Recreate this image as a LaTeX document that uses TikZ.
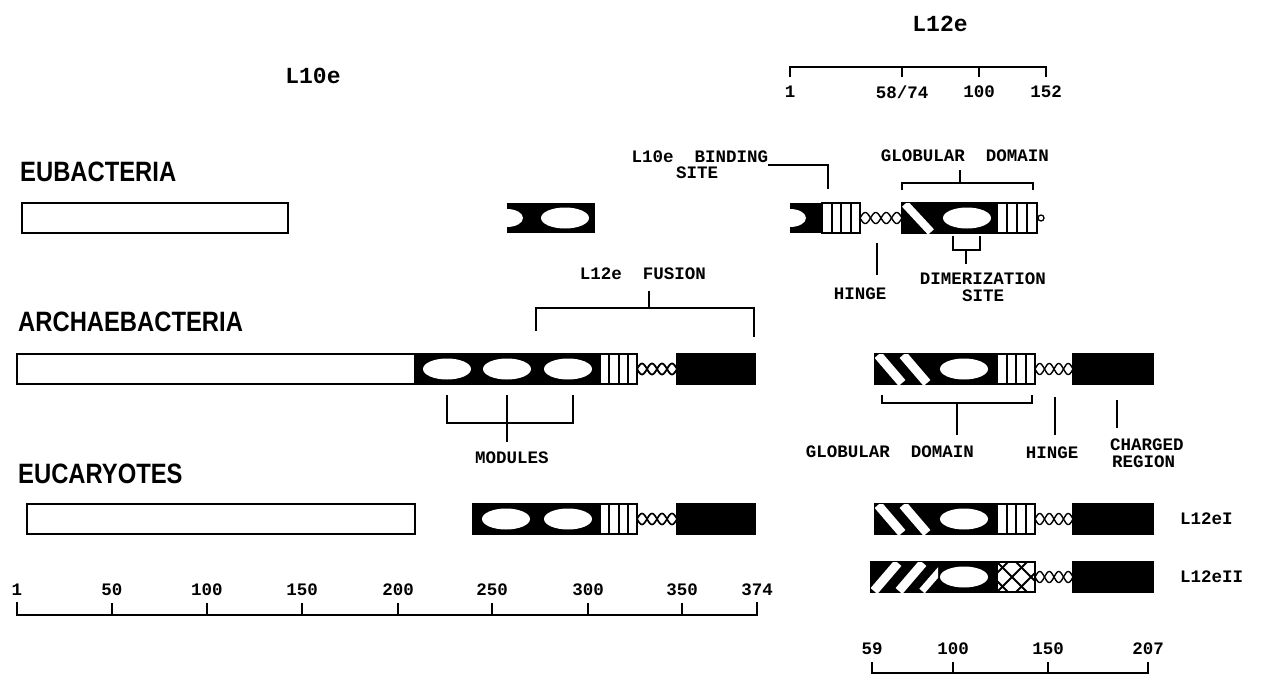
\documentclass[tikz,border=0pt]{standalone}
\usepackage{fontspec}
\newfontfamily\monofam{Liberation Mono}
\newfontfamily\sansfam{Liberation Sans}
\usetikzlibrary{calc}

\tikzset{
  outline/.style={line width=2.5pt},
  lead/.style={line width=2.2pt},
  lbl/.style={font=\monofam\bfseries\fontsize{17.5}{19}\selectfont, inner sep=0pt},
  protein/.style={font=\monofam\bfseries\fontsize{23}{25}\selectfont, inner sep=0pt},
  kingdom/.style={font=\sansfam\bfseries\fontsize{28}{30}\selectfont, inner sep=0pt, anchor=west}
}

% hinge: two crossing waves between #1 and #2 at height #3
\newcommand\hingechain[3]{%
  \draw[line width=1.4pt] plot[domain=#1:#2, samples=81, smooth] (\x,{#3+5.5*sin((\x-#1)/(#2-#1)*720)});
  \draw[line width=1.4pt] plot[domain=#1:#2, samples=81, smooth] (\x,{#3-5.5*sin((\x-#1)/(#2-#1)*720)});
}
% box with vertical stripes
\newcommand\vstripes[4]{%
  \draw[outline, fill=white] (#1,#3) rectangle (#2,#4);
  \foreach \k in {1,2,3}
    \draw[line width=2pt] ({#1+\k*(#2-#1)/4},#3) -- ({#1+\k*(#2-#1)/4},#4);
}
% white oval on black
\newcommand\whiteoval[2]{\fill[white] (#1,#2) ellipse[x radius=24pt, y radius=10.5pt];}
% white notch at the left end of a black segment
\newcommand\notch[2]{\fill[white] (#1,#2) ellipse[x radius=16pt, y radius=9pt];}

\begin{document}
\begin{tikzpicture}[x=1pt, y=-1pt]
  \useasboundingbox (0,0) rectangle (1267,675);

  % titles
  \node[protein] (l10e) at (313,76) {L10e};
  \node[protein] (l12e) at (940,24) {L12e};

  % L12e scale (top)
  \draw[lead] (790,77) -- (790,67) -- (1046,67) -- (1046,77);
  \foreach \px in {902,979} \draw[lead] (\px,67) -- (\px,77);
  \node[lbl] (s1) at (790,92) {1};
  \node[lbl] (s58) at (902,92) {58/74};
  \node[lbl] (s100) at (979,92) {100};
  \node[lbl] (s152) at (1046,92) {152};

  % kingdoms
  \node[kingdom] (eubac) at (20,172) {\scalebox{0.85}[1]{EUBACTERIA}};
  \node[kingdom] (archae) at (18,322) {\scalebox{0.85}[1]{ARCHAEBACTERIA}};
  \node[kingdom] (eucar) at (18,474) {\scalebox{0.85}[1]{EUCARYOTES}};

  % ---- Eubacteria ----
  \draw[outline] (22,203) rectangle (288,233);
  \fill (507,203) rectangle (595,233);
  \notch{507}{218}
  \whiteoval{565}{218}

  \fill (790,203) rectangle (824,233);
  \notch{790}{218}
  \vstripes{822}{860}{203}{233}
  \hingechain{860}{902}{218}
  \draw[outline, fill=black] (902,203) rectangle (1037,233);
  \begin{scope}
    \clip (902,203) rectangle (942,233);
    \draw[white, line width=8pt] (905,204) -- (931,232);
  \end{scope}
  \whiteoval{967}{218}
  \vstripes{997}{1037}{203}{233}
  \draw[line width=1.3pt] (1041,218) circle[radius=3pt];

  % labels Eubacteria L12e
  \node[lbl] (bind) at (700,157) {L10e\ \ BINDING};
  \node[lbl] (bindb) at (697,173) {SITE};
  \draw[lead] (bind.east |- 0,165) -- (828,165) -- (828,189);
  \node[lbl] (glob1) at (965,156) {GLOBULAR\ \ DOMAIN};
  \draw[lead] (902,190) -- (902,183) -- (1033,183) -- (1033,190);
  \draw[lead] (960,183) -- (960,170);
  \node[lbl] (hinge1) at (860,294) {HINGE};
  \draw[lead] (877,243) -- (877,275);
  \node[lbl] (dimer) at (983,279) {DIMERIZATION};
  \node[lbl] (dimerb) at (983,296) {SITE};
  \draw[lead] (953,236) -- (953,250) -- (980,250) -- (980,236);
  \draw[lead] (966,250) -- (966,264);

  % ---- Archaebacteria ----
  \node[lbl] (fusion) at (643,274) {L12e\ \ FUSION};
  \draw[lead] (536,331) -- (536,308) -- (754,308) -- (754,337);
  \draw[lead] (649,308) -- (649,291);

  \draw[outline] (17,354) rectangle (415,384);
  \draw[outline, fill=black] (415,354) rectangle (602,384);
  \foreach \cx in {447,507,568} \whiteoval{\cx}{369}
  \vstripes{600}{637}{354}{384}
  \hingechain{637}{677}{369}
  \draw[outline, fill=black] (677,354) rectangle (755,384);

  \node[lbl] (modules) at (512,458) {MODULES};
  \draw[lead] (447,395) -- (447,423) -- (573,423) -- (573,395);
  \draw[lead] (507,395) -- (507,442);

  \draw[outline, fill=black] (875,354) rectangle (1035,384);
  \begin{scope}
    \clip (875,354) rectangle (938,384);
    \draw[white, line width=9pt] (878,355) -- (902,383);
    \draw[white, line width=9pt] (903,355) -- (927,383);
  \end{scope}
  \whiteoval{964}{369}
  \vstripes{997}{1035}{354}{384}
  \hingechain{1035}{1073}{369}
  \draw[outline, fill=black] (1073,354) rectangle (1153,384);

  \draw[lead] (882,395) -- (882,403) -- (1032,403) -- (1032,395);
  \draw[lead] (957,403) -- (957,435);
  \draw[lead] (1055,397) -- (1055,435);
  \draw[lead] (1117,400) -- (1117,428);
  \node[lbl] (glob2) at (890,452) {GLOBULAR\ \ DOMAIN};
  \node[lbl] (hinge2) at (1052,453) {HINGE};
  \node[lbl, anchor=west] (charged) at (1110,445) {CHARGED};
  \node[lbl, anchor=west] (region) at (1112,462) {REGION};

  % ---- Eucaryotes ----
  \draw[outline] (27,504) rectangle (415,534);
  \draw[outline, fill=black] (473,504) rectangle (602,534);
  \foreach \cx in {506,568} \whiteoval{\cx}{519}
  \vstripes{600}{637}{504}{534}
  \hingechain{637}{677}{519}
  \draw[outline, fill=black] (677,504) rectangle (755,534);

  % L12eI
  \draw[outline, fill=black] (875,504) rectangle (1035,534);
  \begin{scope}
    \clip (875,504) rectangle (938,534);
    \draw[white, line width=9pt] (878,505) -- (902,533);
    \draw[white, line width=9pt] (903,505) -- (927,533);
  \end{scope}
  \whiteoval{964}{519}
  \vstripes{997}{1035}{504}{534}
  \hingechain{1035}{1073}{519}
  \draw[outline, fill=black] (1073,504) rectangle (1153,534);
  \node[lbl, anchor=west] (l12ei) at (1180,519) {L12eI};

  % L12eII
  \draw[outline, fill=black] (871,562) rectangle (1035,592);
  \begin{scope}
    \clip (871,562) rectangle (938,592);
    \draw[white, line width=9pt] (874,591) -- (898,563);
    \draw[white, line width=9pt] (899,591) -- (923,563);
    \draw[white, line width=7pt] (922,591) -- (942,568);
  \end{scope}
  \whiteoval{964}{577}
  \draw[outline, fill=white] (997,562) rectangle (1035,592);
  \begin{scope}
    \clip (997,562) rectangle (1035,592);
    \foreach \k in {-19,0,19} {
      \draw[line width=1.8pt] (997+\k,592) -- (1027+\k,562);
      \draw[line width=1.8pt] (997+\k,562) -- (1027+\k,592);
    }
  \end{scope}
  \draw[outline] (997,562) rectangle (1035,592);
  \hingechain{1035}{1073}{577}
  \draw[outline, fill=black] (1073,562) rectangle (1153,592);
  \node[lbl, anchor=west] (l12eii) at (1180,577) {L12eII};

  % L10e scale (bottom left)
  \draw[lead] (17,602) -- (17,615) -- (757,615) -- (757,602);
  \foreach \n/\px in {1/17, 50/112, 100/207, 150/302, 200/398, 250/492, 300/588, 350/682, 374/757} {
    \draw[lead] (\px,603) -- (\px,615);
    \node[lbl] (a\n) at (\px,590) {\n};
  }

  % L12e scale (bottom right)
  \draw[lead] (872,662) -- (872,673) -- (1148,673) -- (1148,662);
  \foreach \n/\px in {59/872, 100/953, 150/1048, 207/1148} {
    \draw[lead] (\px,662) -- (\px,673);
    \node[lbl] (b\n) at (\px,649) {\n};
  }
\end{tikzpicture}
\end{document}
